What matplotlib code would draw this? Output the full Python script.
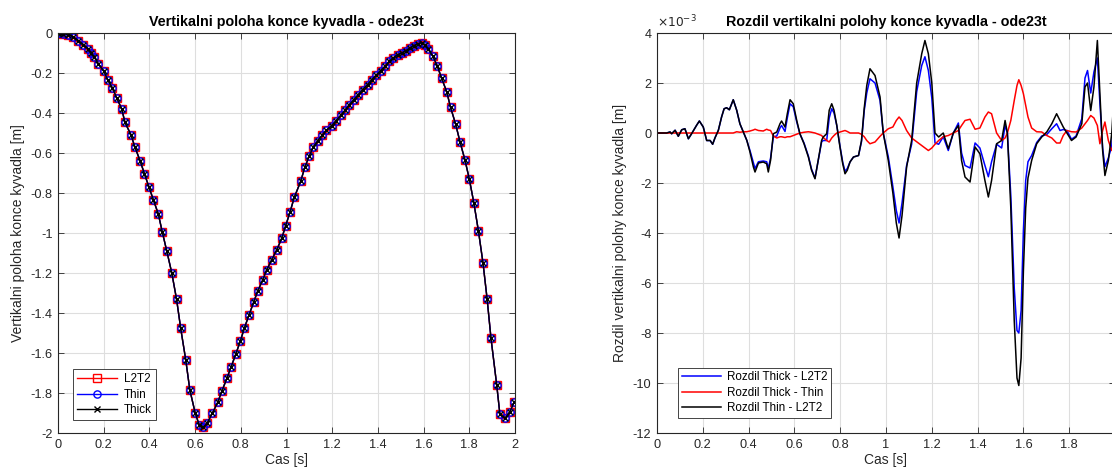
import matplotlib
matplotlib.use("Agg")
import matplotlib.pyplot as plt
from matplotlib.ticker import FuncFormatter, MultipleLocator

plt.rcParams['font.family'] = ['Liberation Sans', 'DejaVu Sans']
plt.rcParams['axes.unicode_minus'] = False

# ---------------- left chart data (vertical position, ode23t steps) ----------------
t_ode = [0.000, 0.010, 0.023, 0.045, 0.067, 0.089, 0.111, 0.133, 0.143, 0.159,
         0.176, 0.201, 0.217, 0.238, 0.257, 0.279, 0.293, 0.319, 0.337, 0.359,
         0.378, 0.398, 0.417, 0.439, 0.456, 0.476, 0.498, 0.519, 0.537, 0.559,
         0.577, 0.600, 0.618, 0.636, 0.654, 0.675, 0.699, 0.718, 0.739, 0.758,
         0.778, 0.798, 0.816, 0.836, 0.856, 0.874, 0.896, 0.913, 0.935, 0.957,
         0.979, 0.996, 1.015, 1.034, 1.062, 1.080, 1.099, 1.117, 1.137, 1.156,
         1.174, 1.198, 1.217, 1.237, 1.256, 1.275, 1.295, 1.314, 1.333, 1.355,
         1.373, 1.392, 1.412, 1.431, 1.450, 1.467, 1.487, 1.504, 1.523, 1.540,
         1.557, 1.574, 1.592, 1.606, 1.621, 1.640, 1.660, 1.679, 1.701, 1.718,
         1.740, 1.759, 1.781, 1.800, 1.820, 1.840, 1.860, 1.878, 1.895, 1.920,
         1.934, 1.956, 1.978, 1.997]
y_l2t2 = [0.000, -0.001, -0.003, -0.008, -0.020, -0.038, -0.058, -0.080, -0.100, -0.120,
          -0.153, -0.192, -0.233, -0.275, -0.325, -0.380, -0.447, -0.508, -0.572, -0.638,
          -0.703, -0.770, -0.833, -0.905, -0.993, -1.090, -1.200, -1.332, -1.477, -1.634,
          -1.785, -1.898, -1.960, -1.972, -1.948, -1.902, -1.847, -1.788, -1.727, -1.668,
          -1.606, -1.540, -1.474, -1.410, -1.347, -1.290, -1.235, -1.185, -1.135, -1.085,
          -1.027, -0.965, -0.897, -0.822, -0.742, -0.672, -0.617, -0.570, -0.538, -0.511,
          -0.487, -0.463, -0.438, -0.412, -0.387, -0.358, -0.333, -0.308, -0.283, -0.258,
          -0.233, -0.212, -0.188, -0.167, -0.142, -0.125, -0.108, -0.100, -0.088, -0.075,
          -0.063, -0.055, -0.048, -0.060, -0.082, -0.115, -0.165, -0.227, -0.293, -0.372,
          -0.455, -0.543, -0.635, -0.730, -0.850, -0.990, -1.150, -1.330, -1.527, -1.760,
          -1.907, -1.927, -1.893, -1.843]
# the three models coincide at this scale
y_thin = y_l2t2
y_thick = y_l2t2
left_labels = ['L2T2', 'Thin', 'Thick']

# ---------------- right chart data (differences, in units of 1e-3 m) ----------------
t_diff = [0.000, 0.042, 0.057, 0.064, 0.079, 0.093, 0.108, 0.122, 0.137, 0.151,
          0.173, 0.185, 0.202, 0.217, 0.232, 0.243, 0.253, 0.268, 0.282, 0.293,
          0.304, 0.316, 0.326, 0.333, 0.348, 0.362, 0.377, 0.392, 0.406, 0.421,
          0.428, 0.443, 0.464, 0.479, 0.486, 0.496, 0.508, 0.523, 0.537, 0.544,
          0.559, 0.569, 0.581, 0.595, 0.610, 0.624, 0.642, 0.661, 0.675, 0.690,
          0.704, 0.719, 0.726, 0.741, 0.752, 0.763, 0.773, 0.785, 0.799, 0.811,
          0.821, 0.831, 0.843, 0.858, 0.880, 0.893, 0.905, 0.916, 0.930, 0.952,
          0.974, 0.988, 1.010, 1.030, 1.045, 1.057, 1.070, 1.090, 1.112, 1.134,
          1.156, 1.170, 1.185, 1.200, 1.214, 1.230, 1.250, 1.272, 1.294, 1.316,
          1.330, 1.345, 1.367, 1.389, 1.410, 1.432, 1.447, 1.461, 1.483, 1.505,
          1.520, 1.530, 1.545, 1.560, 1.572, 1.580, 1.590, 1.600, 1.610, 1.620,
          1.636, 1.658, 1.680, 1.702, 1.724, 1.745, 1.760, 1.774, 1.790, 1.810,
          1.830, 1.855, 1.869, 1.880, 1.894, 1.908, 1.923, 1.934, 1.946, 1.956,
          1.971, 1.986, 2.000]
d_thin_l2t2 = [0.00, 0.00, 0.04, -0.03, 0.11, -0.13, 0.13, 0.17, -0.23, -0.03,
               0.31, 0.48, 0.24, -0.30, -0.30, -0.45, -0.20, 0.11, 0.64, 0.97,
               1.01, 0.93, 1.17, 1.33, 0.91, 0.37, 0.04, -0.29, -0.76, -1.36,
               -1.56, -1.20, -1.16, -1.23, -1.56, -1.09, -0.03, 0.04, 0.37, 0.48,
               0.24, 0.77, 1.33, 1.17, 0.51, -0.03, -0.43, -0.96, -1.49, -1.83,
               -1.09, -0.29, -0.16, -0.03, 0.91, 1.17, 0.91, 0.31, -0.56, -1.23,
               -1.63, -1.49, -1.16, -0.96, -0.90, -0.30, 1.00, 1.90, 2.57, 2.30,
               1.44, 0.00, -1.10, -2.40, -3.60, -4.20, -3.30, -1.36, -0.30, 2.00,
               3.17, 3.70, 3.17, 2.00, 0.00, -0.16, 0.00, -0.63, 0.00, 0.30,
               -1.10, -1.76, -1.96, -0.56, -0.83, -1.90, -2.56, -1.90, -0.43, -0.30,
               0.50, 0.00, -3.00, -7.50, -9.80, -10.10, -9.00, -5.50, -3.00, -1.80,
               -1.10, -0.43, -0.16, 0.04, 0.37, 0.77, 0.50, 0.24, 0.00, -0.30,
               -0.16, 0.37, 1.84, 2.00, 0.90, 1.84, 3.70, 1.57, -0.70, -1.70,
               -1.10, 0.00, 2.20]
d_thick_l2t2 = [0.00, 0.00, 0.04, -0.03, 0.11, -0.13, 0.13, 0.17, -0.23, -0.03,
                0.31, 0.48, 0.24, -0.30, -0.30, -0.45, -0.20, 0.11, 0.64, 0.97,
                1.01, 0.93, 1.17, 1.33, 0.91, 0.37, 0.04, -0.29, -0.70, -1.20,
                -1.42, -1.15, -1.12, -1.15, -1.42, -1.00, -0.15, -0.12, 0.20, 0.30,
                0.06, 0.60, 1.17, 1.05, 0.45, -0.03, -0.40, -0.92, -1.45, -1.80,
                -1.10, -0.35, -0.30, -0.30, 0.60, 0.97, 0.80, 0.30, -0.52, -1.17,
                -1.53, -1.42, -1.15, -0.96, -0.90, -0.35, 0.90, 1.60, 2.17, 2.00,
                1.30, 0.00, -0.95, -2.15, -3.10, -3.60, -2.80, -1.30, -0.45, 1.65,
                2.70, 3.05, 2.50, 1.40, -0.40, -0.45, -0.15, -0.70, 0.00, 0.40,
                -0.80, -1.30, -1.40, -0.40, -0.60, -1.30, -1.75, -1.15, -0.45, -0.60,
                0.30, 0.00, -2.50, -6.20, -7.90, -8.00, -7.10, -3.90, -1.90, -1.15,
                -0.90, -0.38, -0.12, -0.06, 0.17, 0.37, 0.10, 0.14, 0.10, -0.25,
                -0.12, 0.57, 2.20, 2.50, 1.60, 2.44, 3.00, 1.20, -0.60, -1.35,
                -1.00, -0.50, 1.50]
d_thick_thin = [0.00, 0.00, 0.00, 0.00, 0.00, 0.00, 0.00, 0.00, 0.00, 0.00,
                0.00, 0.00, 0.00, 0.00, 0.00, 0.00, 0.00, 0.00, 0.00, 0.00,
                0.00, 0.00, 0.00, 0.00, 0.05, 0.03, 0.05, 0.05, 0.08, 0.12,
                0.15, 0.10, 0.08, 0.15, 0.12, 0.10, -0.12, -0.20, -0.15, -0.15,
                -0.18, -0.15, -0.15, -0.10, -0.05, 0.00, 0.03, 0.05, 0.03, 0.00,
                -0.05, -0.10, -0.18, -0.30, -0.36, -0.20, -0.10, 0.00, 0.04, 0.07,
                0.10, 0.06, 0.00, 0.00, 0.00, -0.05, -0.15, -0.30, -0.43, -0.36,
                -0.13, 0.00, 0.17, 0.24, 0.50, 0.64, 0.50, 0.10, -0.20, -0.35,
                -0.50, -0.60, -0.70, -0.60, -0.45, -0.30, -0.15, -0.10, 0.00, 0.10,
                0.30, 0.50, 0.55, 0.15, 0.20, 0.64, 0.84, 0.77, 0.00, -0.30,
                -0.20, 0.00, 0.50, 1.30, 1.90, 2.13, 1.90, 1.57, 1.10, 0.64,
                0.20, 0.05, 0.04, -0.10, -0.20, -0.40, -0.40, -0.10, 0.10, 0.05,
                0.04, 0.20, 0.37, 0.50, 0.70, 0.60, 0.30, -0.43, 0.10, 0.44,
                -0.30, -0.70, -0.70]
right_labels = ['Rozdil Thick - L2T2', 'Rozdil Thick - Thin', 'Rozdil Thin - L2T2']

titles = ['Vertikalni poloha konce kyvadla - ode23t',
          'Rozdil vertikalni polohy konce kyvadla - ode23t']
ylabels = ['Vertikalni poloha konce kyvadla [m]',
           'Rozdil vertikalni polohy konce kyvadla [m]']
xlabel = 'Cas [s]'
exponent_label = r'$\times10^{-3}$'

# ---------------- figure ----------------
W, H = 1112, 472
fig = plt.figure(figsize=(W / 100, H / 100), dpi=100)
ax1 = fig.add_axes([58 / W, (H - 433) / H, 457 / W, 400 / H])
ax2 = fig.add_axes([657 / W, (H - 433) / H, 458 / W, 400 / H])

SPINE = '#262626'
GRID = '#dedede'
FS_TICK = 9.2
FS_LAB = 10.0
FS_TITLE = 10.3


def style(ax):
    ax.set_axisbelow(True)
    ax.grid(True, color=GRID, linewidth=0.8)
    for s in ax.spines.values():
        s.set_color(SPINE)
        s.set_linewidth(0.8)
    ax.tick_params(direction='in', length=4, width=0.6, colors=SPINE,
                   labelsize=FS_TICK, top=True, right=True, pad=4)
    ax.xaxis.set_major_locator(MultipleLocator(0.2))
    ax.xaxis.set_major_formatter(FuncFormatter(lambda v, p: f"{round(v, 6):g}"))
    ax.yaxis.set_major_formatter(FuncFormatter(lambda v, p: f"{round(v, 6):g}"))


# left
ax1.plot(t_ode, y_l2t2, '-s', color='red', lw=1.0, ms=6.2, mfc='none', mew=1.0,
         label=left_labels[0])
ax1.plot(t_ode, y_thin, '-o', color='blue', lw=1.0, ms=5.2, mfc='none', mew=1.0,
         label=left_labels[1])
ax1.plot(t_ode, y_thick, '-x', color='black', lw=1.0, ms=4.0, mew=1.0,
         label=left_labels[2])
ax1.set_xlim(0, 2)
ax1.set_ylim(-2, 0)
style(ax1)
ax1.yaxis.set_major_locator(MultipleLocator(0.2))
ax1.set_title(titles[0], fontsize=FS_TITLE, fontweight='bold', pad=5)
ax1.set_ylabel(ylabels[0], fontsize=FS_LAB, color=SPINE, labelpad=4)
ax1.set_xlabel(xlabel, fontsize=FS_LAB, color=SPINE, labelpad=2)
leg1 = ax1.legend(loc='lower left', bbox_to_anchor=(0.033, 0.032),
                  borderaxespad=0, fontsize=8.4, fancybox=False, framealpha=1,
                  edgecolor=SPINE, handlelength=3.4, handletextpad=0.6,
                  labelspacing=0.3, borderpad=0.35)
leg1.get_frame().set_linewidth(0.6)

# right
ax2.plot(t_diff, d_thick_l2t2, color='blue', lw=1.1, label=right_labels[0])
ax2.plot(t_diff, d_thick_thin, color='red', lw=1.1, label=right_labels[1])
ax2.plot(t_diff, d_thin_l2t2, color='black', lw=1.1, label=right_labels[2])
ax2.set_xlim(0, 2)
ax2.set_ylim(-12, 4)
style(ax2)
ax2.yaxis.set_major_locator(MultipleLocator(2))
ax2.text(0.0, 1.008, exponent_label, transform=ax2.transAxes, ha='left',
         va='bottom', fontsize=8.8, color=SPINE)
ax2.set_title(titles[1], fontsize=FS_TITLE, fontweight='bold', pad=5)
ax2.set_ylabel(ylabels[1], fontsize=FS_LAB, color=SPINE, labelpad=4)
ax2.set_xlabel(xlabel, fontsize=FS_LAB, color=SPINE, labelpad=2)
leg2 = ax2.legend(loc='lower left', bbox_to_anchor=(0.046, 0.038),
                  borderaxespad=0, fontsize=8.4, fancybox=False, framealpha=1,
                  edgecolor=SPINE, handlelength=3.4, handletextpad=0.5,
                  labelspacing=0.3, borderpad=0.3)
leg2.get_frame().set_linewidth(0.6)

fig.savefig('out.png', dpi=100)
